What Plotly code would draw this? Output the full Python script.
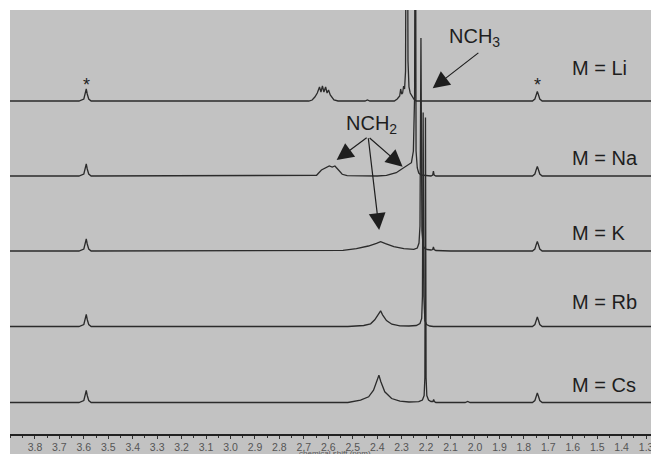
import plotly.graph_objects as go

# ---------------- data (ppm, intensity above each baseline) ----------------
labels = ["M = Li", "M = Na", "M = K", "M = Rb", "M = Cs"]

star_ppm = [3.62, 3.60, 3.594, 3.59, 3.586, 3.58, 3.57]
star_int = [0, 2, 7, 12, 7, 2, 0]
ref_ppm = [1.765, 1.755, 1.75, 1.745, 1.74, 1.735, 1.725]
ref_int = [0, 2, 6, 9.5, 6, 2, 0]

li_ppm = [2.68, 2.666, 2.655, 2.645, 2.636, 2.630, 2.624, 2.618, 2.611, 2.605, 2.599, 2.592,
          2.585, 2.577, 2.56, 2.45, 2.44, 2.43, 2.33, 2.318, 2.308, 2.304, 2.300, 2.296, 2.292,
          2.288, 2.284, 2.279, 2.274, 2.270, 2.265, 2.261, 2.256, 2.25, 2.24]
li_int = [0, 1, 4, 8, 14, 9, 15, 9, 14, 8, 11, 6,
          3, 1, 0, 0, 1, 0, 0, 2, 5, 12, 7, 8, 15,
          12, 30, 420, 40, 14, 8, 6, 4, 2, 0]

na_ppm = [2.66, 2.648, 2.628, 2.607, 2.596, 2.584, 2.573, 2.561, 2.543, 2.523, 2.40, 2.362,
          2.322, 2.301, 2.281, 2.26, 2.252, 2.247, 2.244, 2.241, 2.236, 2.23, 2.22, 2.20,
          2.18, 2.173, 2.170, 2.167, 2.16]
na_int = [0, 0.7, 6, 9, 10, 9, 10, 6.7, 1.7, 0.3, 0, 0.7,
          3.3, 6.7, 10, 13.3, 25, 80, 420, 25, 8, 3, 1, 0.5,
          0, 1, 5, 1, 0]

k_ppm = [2.70, 2.60, 2.54, 2.485, 2.436, 2.403, 2.386, 2.366, 2.332, 2.291, 2.25, 2.236,
         2.229, 2.225, 2.221, 2.217, 2.212, 2.205, 2.195, 2.18, 2.173, 2.170, 2.167, 2.16, 2.10]
k_int = [0, 0.3, 0.7, 2.3, 5, 7.7, 9.3, 7.3, 4.3, 2.3, 1.7, 3,
         8, 25, 213, 20, 5, 2.5, 1.5, 1, 1.5, 4, 1.5, 0.5, 0]

rb_ppm = [2.52, 2.455, 2.427, 2.41, 2.397, 2.386, 2.378, 2.362, 2.34, 2.307, 2.27, 2.24,
          2.225, 2.218, 2.215, 2.212, 2.209, 2.205, 2.198, 2.185, 2.17]
rb_int = [0, 1, 2.7, 6.7, 11.7, 15.7, 11.7, 6, 2.3, 0.7, 0.5, 1,
          3, 8, 30, 214, 30, 6, 2, 0.5, 0]

cs_ppm = [2.52, 2.468, 2.435, 2.415, 2.403, 2.393, 2.385, 2.369, 2.341, 2.307, 2.27, 2.23,
          2.215, 2.208, 2.205, 2.2025, 2.200, 2.197, 2.19, 2.18, 2.172, 2.169, 2.166, 2.16,
          2.04, 2.03, 2.02]
cs_int = [0, 2.3, 5.7, 12.3, 20.7, 27.3, 20.7, 10.7, 4, 1.3, 0.5, 0.8,
          2.5, 7, 25, 285, 25, 7, 2.5, 1, 1, 3, 1, 0,
          0, 1, 0]

spectra = [(li_ppm, li_int), (na_ppm, na_int), (k_ppm, k_int), (rb_ppm, rb_int), (cs_ppm, cs_int)]

x_ticks = [3.8, 3.7, 3.6, 3.5, 3.4, 3.3, 3.2, 3.1, 3.0, 2.9, 2.8, 2.7, 2.6, 2.5, 2.4,
           2.3, 2.2, 2.1, 2.0, 1.9, 1.8, 1.7, 1.6, 1.5, 1.4, 1.3]
tick_text = ["%.1f" % t for t in x_ticks]

# ---------------- layout constants ----------------
BASELINES = [333, 258, 183, 107.5, 31.5]
LABEL_Y = [366, 276, 201, 132, 49]
BG = "#c2c2c2"
INK = "#2b2b2b"
W, H = 651, 454
ML, MR, MT, MB = 10, 0, 10, 20
PW, PH = W - ML - MR, H - MT - MB

fig = go.Figure()

for (pp, ii), base in zip(spectra, BASELINES):
    xs = [3.95] + star_ppm + pp + ref_ppm + [1.25]
    ys = [0] + star_int + ii + ref_int + [0]
    fig.add_trace(go.Scatter(
        x=xs, y=[v + base for v in ys], mode="lines",
        line=dict(color=INK, width=1.3), hoverinfo="skip", showlegend=False))

ann = []
for lab, ly in zip(labels, LABEL_Y):
    ann.append(dict(x=1.612, y=ly, xref="x", yref="y", text=lab, showarrow=False,
                    xanchor="left", yanchor="middle",
                    font=dict(family="Liberation Sans, Arial", size=20, color="#1e1e1e")))

for sx in [3.59, 1.745]:
    ann.append(dict(x=sx, y=349, xref="x", yref="y", text="*", showarrow=False,
                    xanchor="center", yanchor="middle",
                    font=dict(family="Liberation Sans, Arial", size=18, color="#1e1e1e")))

ann.append(dict(x=2.0, y=397, xref="x", yref="y", text="NCH<sub>3</sub>", showarrow=False,
                xanchor="center", yanchor="middle",
                font=dict(family="Liberation Sans, Arial", size=20, color="#1e1e1e")))
ann.append(dict(x=2.424, y=310, xref="x", yref="y", text="NCH<sub>2</sub>", showarrow=False,
                xanchor="center", yanchor="middle",
                font=dict(family="Liberation Sans, Arial", size=20, color="#1e1e1e")))

arrows = [((1.98, 382.3), (2.173, 345.7)),
          ((2.437, 297.3), (2.566, 274.0)),
          ((2.437, 297.3), (2.296, 267.3)),
          ((2.437, 297.3), (2.392, 204.0))]
for (tx, ty), (hx, hy) in arrows:
    ann.append(dict(x=hx, y=hy, ax=tx, ay=ty, xref="x", yref="y", axref="x", ayref="y",
                    text="", showarrow=True, arrowhead=2, arrowsize=2.8, arrowwidth=1.2,
                    arrowcolor="#1e1e1e", standoff=0, startstandoff=0))

ann.append(dict(x=0.507, y=-(453 - (H - MB)) / PH, xref="paper", yref="paper",
                text="chemical shift (ppm)", showarrow=False, xanchor="center", yanchor="middle",
                font=dict(family="Liberation Sans, Arial", size=8, color="#555555")))

shapes = [
    dict(type="rect", xref="paper", yref="paper", x0=-ML / PW - 0.01, x1=0,
         y0=-MB / PH - 0.01, y1=1 + MT / PH + 0.01, fillcolor="white", line=dict(width=0),
         layer="above"),
    dict(type="rect", xref="paper", yref="paper", x0=-ML / PW - 0.01, x1=1.01,
         y0=1, y1=1 + MT / PH + 0.01, fillcolor="white", line=dict(width=0),
         layer="above"),
]

fig.update_layout(
    width=W, height=H, margin=dict(l=ML, r=MR, t=MT, b=MB, autoexpand=False),
    paper_bgcolor=BG, plot_bgcolor=BG,
    annotations=ann, shapes=shapes, showlegend=False,
    xaxis=dict(range=[3.902, 1.28], showgrid=False, zeroline=False, automargin=False,
               showline=True, linecolor="#222222", linewidth=1.5,
               tickmode="array", tickvals=x_ticks, ticktext=tick_text,
               ticks="outside", ticklen=3, tickwidth=1, tickcolor="#333333",
               ticklabeloverflow="allow",
               minor=dict(dtick=0.05, tick0=0, ticks="outside", ticklen=2, tickcolor="#333333"),
               tickfont=dict(family="Liberation Sans Narrow, Liberation Sans, Arial", size=10.5,
                             color="#555555"),
               fixedrange=True),
    yaxis=dict(range=[0, PH], visible=False, fixedrange=True),
)

fig.write_html("out.html", config={"displayModeBar": False, "staticPlot": True},
               post_script="document.body.style.margin='0';document.body.style.overflow='hidden';")
